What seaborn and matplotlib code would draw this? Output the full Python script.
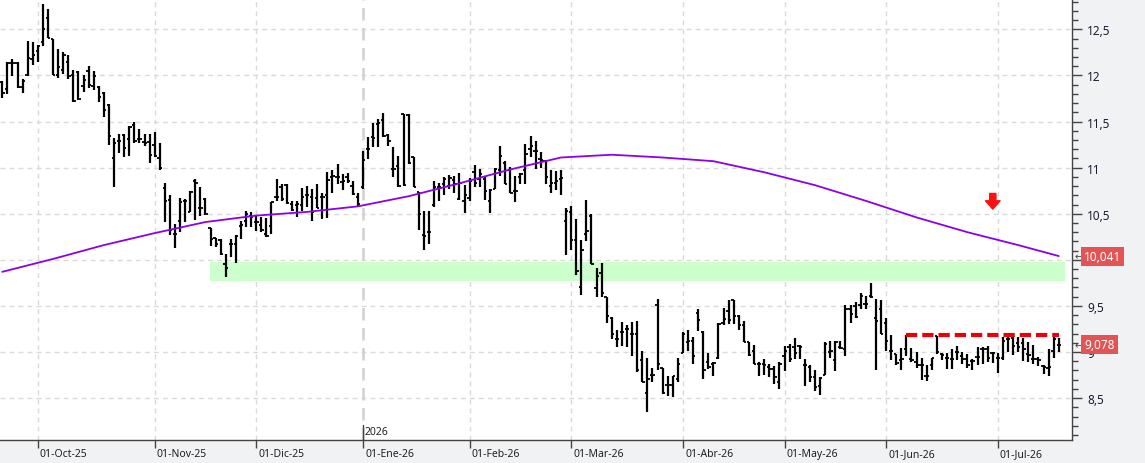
import numpy as np
import pandas as pd
import matplotlib
matplotlib.use('Agg')
import matplotlib.pyplot as plt
import seaborn as sns
from matplotlib.transforms import blended_transform_factory, ScaledTranslation
from matplotlib.ticker import MultipleLocator, FuncFormatter, FixedLocator

# ---------------- data ----------------
start_date = '2025-09-22'
market_holidays = ['2025-12-25', '2025-12-26', '2026-01-01', '2026-04-03', '2026-04-06', '2026-05-01']
meses = ['Ene', 'Feb', 'Mar', 'Abr', 'May', 'Jun', 'Jul', 'Ago', 'Sep', 'Oct', 'Nov', 'Dic']

open_ = [11.93, 11.85, 12.14, 12.14, 11.87, 12.00, 12.18, 12.27, 12.36, 12.62,
         12.40, 12.01, 12.06, 12.15, 12.00, 12.04, 11.88, 12.05, 11.89, 11.87,
         11.81, 11.68, 11.10, 11.29, 11.35, 11.31, 11.46, 11.31, 11.28, 11.28,
         11.25, 11.10, 10.78, 10.65, 10.28, 10.42, 10.64, 10.52, 10.86, 10.56,
         10.66, 10.35, 10.24, 10.21, 9.95, 10.17, 10.17, 10.37, 10.42, 10.48,
         10.41, 10.38, 10.28, 10.37, 10.68, 10.79, 10.81, 10.61, 10.59, 10.59,
         10.70, 10.68, 10.67, 10.68, 10.70, 10.90, 10.90, 10.84, 10.90, 10.80,
         10.68, 10.79, 11.20, 11.33, 11.47, 11.52, 11.35, 10.99, 11.02, 11.58,
         11.57, 11.12, 10.74, 10.27, 10.30, 10.60, 10.79, 10.82, 10.80, 10.87,
         10.66, 10.64, 10.67, 10.95, 10.88, 10.88, 10.64, 10.77, 10.97, 11.05,
         10.97, 10.75, 10.90, 10.97, 11.20, 11.18, 11.09, 11.07, 10.80, 10.83,
         10.88, 10.42, 10.52, 10.22, 9.70, 10.28, 10.48, 9.69, 9.86, 9.60,
         9.37, 9.14, 9.22, 9.25, 9.20, 9.20, 8.91, 8.56, 8.75, 9.51,
         8.83, 8.64, 8.64, 8.71, 8.99, 9.11, 9.12, 9.42, 9.22, 8.89,
         8.87, 8.93, 9.32, 9.44, 9.56, 9.39, 9.29, 9.11, 9.01, 8.87,
         8.87, 8.84, 8.82, 8.68, 8.96, 9.05, 9.06, 9.07, 8.86, 8.84,
         8.73, 8.63, 8.75, 9.00, 8.91, 9.05, 9.03, 9.47, 9.50, 9.51,
         9.52, 9.61, 9.37, 9.47, 9.31, 9.01, 8.98, 8.91, 9.03, 8.92,
         8.89, 8.86, 8.74, 8.86, 9.17, 8.98, 8.93, 8.92, 9.00, 8.96,
         8.92, 8.90, 8.95, 9.03, 9.03, 8.99, 8.94, 8.93, 9.14, 9.15,
         9.10, 9.10, 8.98, 8.92, 8.92, 8.85, 8.83, 9.01, 9.08]

high = [11.94, 12.15, 12.18, 12.15, 11.96, 12.37, 12.36, 12.33, 12.77, 12.72,
        12.40, 12.29, 12.25, 12.22, 12.06, 12.05, 12.00, 12.10, 12.05, 11.88,
        11.82, 11.69, 11.32, 11.37, 11.37, 11.45, 11.49, 11.42, 11.37, 11.37,
        11.39, 11.27, 10.83, 10.70, 10.39, 10.67, 10.66, 10.75, 10.88, 10.79,
        10.67, 10.35, 10.24, 10.23, 10.06, 10.23, 10.27, 10.42, 10.53, 10.52,
        10.48, 10.46, 10.45, 10.63, 10.88, 10.82, 10.82, 10.64, 10.64, 10.78,
        10.80, 10.77, 10.82, 10.73, 10.95, 10.97, 11.04, 10.93, 10.94, 10.86,
        10.73, 11.18, 11.33, 11.48, 11.53, 11.59, 11.37, 11.22, 11.13, 11.58,
        11.58, 11.12, 10.74, 10.53, 10.53, 10.86, 10.83, 10.90, 10.92, 10.91,
        10.94, 10.81, 10.89, 11.03, 10.98, 10.90, 10.77, 11.00, 11.23, 11.07,
        11.01, 10.91, 10.94, 11.26, 11.34, 11.29, 11.17, 11.08, 10.97, 10.96,
        10.97, 10.56, 10.58, 10.44, 10.21, 10.65, 10.50, 9.91, 9.97, 9.60,
        9.38, 9.24, 9.33, 9.29, 9.33, 9.34, 9.01, 8.94, 8.83, 9.58,
        8.83, 8.74, 8.74, 8.94, 9.22, 9.24, 9.16, 9.47, 9.23, 8.99,
        8.89, 9.31, 9.48, 9.56, 9.56, 9.40, 9.34, 9.11, 9.08, 8.89,
        8.92, 8.87, 8.85, 8.89, 9.07, 9.09, 9.15, 9.08, 8.92, 8.86,
        8.80, 8.73, 9.11, 9.12, 9.12, 9.12, 9.51, 9.51, 9.54, 9.64,
        9.61, 9.75, 9.57, 9.56, 9.37, 9.18, 8.98, 9.04, 9.18, 9.04,
        9.00, 8.94, 8.86, 8.94, 9.17, 8.99, 8.99, 9.03, 9.07, 9.00,
        8.98, 8.92, 9.05, 9.06, 9.07, 9.00, 8.99, 9.16, 9.18, 9.17,
        9.16, 9.15, 9.11, 9.08, 8.95, 8.86, 9.03, 9.16, 9.15]

low = [11.75, 11.80, 11.99, 11.86, 11.81, 11.99, 12.11, 12.15, 12.32, 12.41,
       12.00, 11.97, 12.02, 11.96, 11.71, 11.73, 11.82, 11.86, 11.84, 11.71,
       11.55, 11.25, 10.79, 11.16, 11.11, 11.13, 11.27, 11.27, 11.24, 11.05,
       11.12, 10.97, 10.41, 10.27, 10.13, 10.30, 10.41, 10.52, 10.43, 10.48,
       10.49, 10.15, 10.14, 10.05, 9.81, 10.03, 9.97, 10.23, 10.36, 10.36,
       10.31, 10.30, 10.25, 10.28, 10.64, 10.64, 10.61, 10.53, 10.46, 10.53,
       10.57, 10.42, 10.56, 10.44, 10.45, 10.72, 10.82, 10.76, 10.83, 10.70,
       10.58, 10.77, 11.09, 11.22, 11.22, 11.33, 11.24, 10.90, 10.79, 10.80,
       11.04, 10.79, 10.32, 10.11, 10.17, 10.57, 10.64, 10.70, 10.77, 10.72,
       10.65, 10.51, 10.64, 10.79, 10.79, 10.65, 10.51, 10.77, 10.91, 10.82,
       10.73, 10.63, 10.82, 10.82, 11.12, 10.99, 11.00, 10.82, 10.72, 10.76,
       10.70, 10.05, 10.11, 9.84, 9.62, 10.20, 9.95, 9.60, 9.60, 9.31,
       9.14, 9.06, 9.07, 9.06, 8.96, 8.78, 8.67, 8.35, 8.68, 8.80,
       8.55, 8.52, 8.51, 8.68, 8.99, 9.01, 8.87, 9.23, 8.71, 8.82,
       8.74, 8.92, 9.29, 9.30, 9.30, 9.24, 9.11, 8.96, 8.87, 8.74,
       8.75, 8.73, 8.65, 8.60, 8.79, 8.89, 8.92, 8.92, 8.63, 8.67,
       8.58, 8.53, 8.75, 8.93, 8.79, 9.03, 8.96, 9.31, 9.37, 9.47,
       9.47, 9.59, 8.81, 9.20, 9.01, 8.91, 8.86, 8.81, 8.96, 8.89,
       8.83, 8.70, 8.69, 8.80, 8.98, 8.91, 8.82, 8.82, 8.91, 8.87,
       8.83, 8.81, 8.86, 8.87, 8.89, 8.88, 8.77, 8.91, 9.00, 8.97,
       9.00, 8.90, 8.89, 8.87, 8.85, 8.76, 8.74, 8.93, 9.00]

close = [11.81, 12.14, 12.14, 11.87, 11.94, 12.19, 12.22, 12.32, 12.50, 12.41,
         12.00, 12.09, 12.22, 11.99, 11.72, 11.74, 11.95, 11.90, 11.99, 11.77,
         11.63, 11.34, 11.27, 11.29, 11.21, 11.44, 11.29, 11.31, 11.27, 11.14,
         11.13, 11.00, 10.64, 10.32, 10.28, 10.63, 10.64, 10.74, 10.83, 10.56,
         10.50, 10.23, 10.17, 10.06, 9.91, 10.17, 10.26, 10.38, 10.50, 10.47,
         10.41, 10.32, 10.26, 10.63, 10.68, 10.66, 10.62, 10.54, 10.61, 10.68,
         10.70, 10.52, 10.56, 10.68, 10.87, 10.91, 10.90, 10.85, 10.85, 10.71,
         10.61, 11.08, 11.20, 11.32, 11.48, 11.34, 11.29, 10.99, 10.80, 10.81,
         11.05, 10.79, 10.50, 10.26, 10.30, 10.79, 10.79, 10.88, 10.89, 10.82,
         10.83, 10.70, 10.86, 10.83, 10.93, 10.75, 10.76, 10.98, 11.13, 10.82,
         10.73, 10.75, 10.93, 11.15, 11.24, 11.18, 11.08, 10.90, 10.83, 10.85,
         10.89, 10.53, 10.21, 9.88, 10.11, 10.31, 9.96, 9.83, 9.64, 9.39,
         9.20, 9.14, 9.22, 9.25, 9.20, 8.80, 8.67, 8.71, 8.75, 8.87,
         8.56, 8.64, 8.74, 8.87, 9.20, 9.12, 8.96, 9.35, 8.80, 8.84,
         8.88, 9.30, 9.36, 9.35, 9.39, 9.29, 9.11, 8.97, 8.87, 8.87,
         8.86, 8.82, 8.73, 8.87, 9.01, 8.92, 8.99, 9.06, 8.86, 8.73,
         8.62, 8.72, 9.09, 9.01, 9.11, 9.04, 9.47, 9.41, 9.38, 9.61,
         9.52, 9.60, 9.34, 9.20, 9.12, 9.01, 8.88, 8.92, 9.18, 8.91,
         8.86, 8.86, 8.74, 8.94, 9.00, 8.97, 8.93, 8.92, 9.00, 8.92,
         8.86, 8.90, 8.95, 9.03, 8.93, 8.99, 8.94, 9.12, 9.14, 9.07,
         9.05, 9.03, 8.97, 8.92, 8.91, 8.84, 8.84, 9.14, 9.078]

# moving average read at every 10th session
ma_idx = [0, 10, 20, 30, 40, 50, 60, 70, 80, 90, 100, 110, 120, 130, 140, 150,
          160, 170, 180, 190, 200, 208]
ma_val = [9.87, 10.01, 10.16, 10.29, 10.41, 10.48, 10.52, 10.58, 10.69, 10.83, 10.98,
          11.11, 11.14, 11.11, 11.07, 10.95, 10.81, 10.64, 10.46, 10.30, 10.16, 10.041]

zone_low, zone_high = 9.773, 9.979
zone_from, zone_to = 40.9, 209.2
resist_level = 9.185
resist_from, resist_to = 178, 208
arrow_idx, arrow_top, arrow_bottom = 195, 10.72, 10.55
last_ma = 10.041
last_close = 9.078

# ---------------- plot ----------------
sns.set_theme(style='white')
plt.rcParams['font.family'] = ['Noto Sans', 'DejaVu Sans']

n = len(close)
dates = pd.bdate_range(start_date, periods=n, freq='C', holidays=market_holidays)
x = np.arange(n)
month_idx = [i for i in range(1, n) if dates[i].month != dates[i - 1].month]
month_lbl = [f"01-{meses[dates[i].month - 1]}-{dates[i].year % 100:02d}" for i in month_idx]
year_idx = [i for i in month_idx if dates[i].month == 1]

W, H = 1145, 464
fig = plt.figure(figsize=(W / 100, H / 100), dpi=100, facecolor='#f1f2f4')
ax = fig.add_axes([0, 23 / H, 1072 / W, 441 / H])
ax.set_facecolor('white')
ax.set_xlim(-0.45, 210.6)
ax.set_ylim(8.046, 12.829)

# grid
grid_kw = dict(color='#dadada', lw=1.0, ls=(0, (3.5, 3)), zorder=0)
for yv in np.arange(8.5, 12.51, 0.5):
    ax.axhline(yv, **grid_kw)
for i in month_idx:
    if i in year_idx:
        ax.axvline(i, color='#d0d0d0', lw=1.8, ls=(0, (5, 3)), zorder=0)
    else:
        ax.axvline(i, **grid_kw)

# support zone
ax.fill_between([zone_from, zone_to], zone_low, zone_high, color='#ccffcc', lw=0, zorder=1)

# OHLC bars
ax.vlines(x, low, high, color='black', lw=1.6, zorder=3)
ax.hlines(open_, x - 0.45, x, color='black', lw=1.3, zorder=3)
ax.hlines(close, x, x + 0.45, color='black', lw=1.3, zorder=3)

# moving average
sns.lineplot(x=ma_idx, y=ma_val, color='#8a00f0', lw=1.3, ax=ax, zorder=4)

# resistance line
sns.lineplot(x=[resist_from, resist_to], y=[resist_level, resist_level], color='#e8000b',
             lw=3, ax=ax, zorder=4, linestyle=(0, (2.7, 1.2)))

# red arrow
ax.annotate('', xy=(arrow_idx, arrow_bottom), xytext=(arrow_idx, arrow_top),
            arrowprops=dict(arrowstyle='simple,head_length=0.6,head_width=1.05,tail_width=0.45',
                            color='#ff1010', mutation_scale=10, shrinkA=0, shrinkB=0), zorder=5)

# axes styling
for s in ['top', 'left']:
    ax.spines[s].set_visible(False)
for s in ['bottom', 'right']:
    ax.spines[s].set_color('#444444')
    ax.spines[s].set_linewidth(1.0)

hidden_by_box = [round(last_ma * 2) / 2]


def ylab(v, p):
    if any(abs(v - h) < 1e-6 for h in hidden_by_box):
        return ''
    return f'{v:g}'.replace('.', ',')


ax.yaxis.tick_right()
ax.yaxis.set_major_locator(MultipleLocator(0.5))
ax.yaxis.set_minor_locator(MultipleLocator(0.1))
ax.yaxis.set_major_formatter(FuncFormatter(ylab))
ax.tick_params(axis='y', which='major', length=7, width=1, color='#444444', pad=4,
               labelsize=8.5, labelcolor='#1c1c30', right=True, left=False)
ax.tick_params(axis='y', which='minor', length=4, width=1, color='#444444', right=True, left=False)

ax.xaxis.set_major_locator(FixedLocator(month_idx))
ax.set_xticklabels(month_lbl)
ax.tick_params(axis='x', which='major', length=6, width=1, color='#444444', pad=1,
               labelsize=7.5, labelcolor='#222222', bottom=True, direction='out')
for lab in ax.get_xticklabels():
    lab.set_horizontalalignment('left')
    lab.set_transform(lab.get_transform() + ScaledTranslation(1.5 / 72, 1.5 / 72, fig.dpi_scale_trans))

# year marker
for i in year_idx:
    ax.annotate(str(dates[i].year), xy=(i, 0), xycoords=('data', 'axes fraction'),
                xytext=(1.5, 2), textcoords='offset points', ha='left', va='bottom',
                fontsize=7.5, color='#222222')
    ax.plot([i, i], [0, 0.035], transform=blended_transform_factory(ax.transData, ax.transAxes),
            color='#444444', lw=1, clip_on=False)

# price labels on the right axis
trans = blended_transform_factory(ax.transAxes, ax.transData)
for val in [last_ma, last_close]:
    ax.text(1.0115, val, f'{val:.3f}'.replace('.', ','), transform=trans, color='white',
            fontsize=8.5, va='center', ha='left', zorder=6,
            bbox=dict(boxstyle='square,pad=0.25', fc='#e35454', ec='none'))
    ax.text(1.002, val, '←', transform=trans, color='#444444', fontsize=7, va='center',
            ha='left', family=['DejaVu Sans'])

fig.savefig('out.png', dpi=100, facecolor=fig.get_facecolor())
